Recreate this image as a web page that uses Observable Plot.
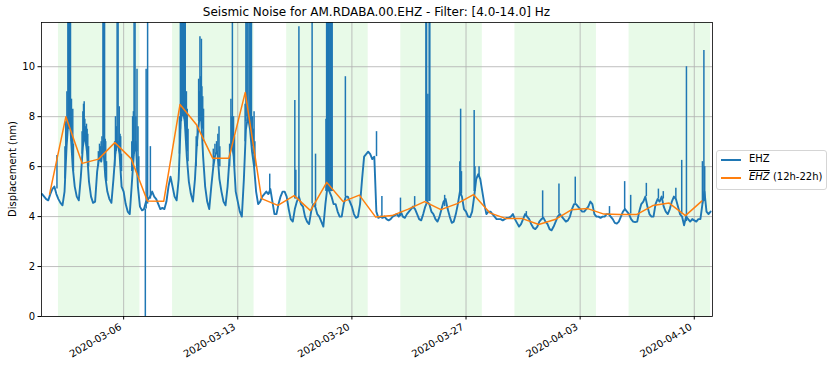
<!DOCTYPE html>
<html>
<head>
<meta charset="utf-8">
<script src="https://cdn.jsdelivr.net/npm/d3@7"></script>
<script src="https://cdn.jsdelivr.net/npm/@observablehq/plot@0.6"></script>
<style>
  body { margin: 0; background: #fff; font-family: "DejaVu Sans", sans-serif; }
  #wrap { position: relative; width: 833px; height: 368px; overflow: hidden; }
  #chart { position: absolute; left: 0; top: 0; }
  #title { position: absolute; left: 41px; width: 671px; top: 5px; text-align: center; font-size: 12px; color: #000; white-space: nowrap; }
  #ylabel { position: absolute; left: 12px; top: 169px; transform: translate(-50%, -50%) rotate(-90deg); font-size: 10px; white-space: nowrap; color: #000; }
  #legend { position: absolute; left: 716px; top: 150px; width: 109px; height: 38px; border: 1px solid #d5d5d5; border-radius: 3px; background: #fff; font-size: 10px; }
  .item { position: absolute; left: 4px; height: 14px; line-height: 14px; white-space: nowrap; }
  .sw { position: absolute; left: 0; top: 7px; width: 20px; height: 1.5px; }
  .lab { position: absolute; left: 28px; top: 0; }
  .ov { font-style: italic; text-decoration: overline; }
</style>
</head>
<body>
<div id="wrap">
  <div id="chart"></div>
  <div id="title">Seismic Noise for AM.RDABA.00.EHZ - Filter: [4.0-14.0] Hz</div>
  <div id="ylabel">Displacement (nm)</div>
  <div id="legend">
    <div class="item" style="top:1px"><span class="sw" style="background:#1f77b4"></span><span class="lab">EHZ</span></div>
    <div class="item" style="top:19px"><span class="sw" style="background:#ff7f0e"></span><span class="lab"><span class="ov">EHZ</span> (12h-22h)</span></div>
  </div>
</div>
<script>
// ---- data ----
const seriesStart = "2020-03-01T00:00:00Z";
const noiseStepHours = 3;
// EHZ displacement (nm), every 3 hours from 2020-03-01 00:00
const noiseValues = [
  4.9, 4.8, 4.7, 4.65, 4.9, 5.1, 5.2, 4.9,
  4.7, 4.55, 4.45, 5.0, 6.8, 8.0, 7.4, 6.0,
  5.2, 4.8, 4.65, 5.6, 6.8, 7.3, 6.6, 5.4,
  4.8, 4.55, 4.6, 5.8, 6.4, 6.2, 6.8, 5.6,
  5.0, 4.7, 4.55, 5.5, 6.6, 7.0, 6.5, 5.2,
  5.0, 4.5, 4.2, 4.1, 5.3, 6.5, 7.0, 5.2,
  4.4, 4.25, 4.3, 4.6, 4.7, 4.8, 5.0, 4.8,
  4.7, 4.5, 4.3, 4.35, 4.3, 4.6, 5.2, 5.6,
  5.2, 4.8, 4.65, 5.5, 7.8, 8.4, 7.8, 6.4,
  5.4, 4.9, 4.6, 5.5, 7.0, 7.8, 8.0, 6.4,
  5.2, 4.6, 4.3, 5.2, 6.0, 6.5, 6.6, 5.5,
  5.0, 4.6, 4.45, 5.2, 6.4, 7.0, 6.4, 5.0,
  4.6, 4.2, 4.0, 5.5, 7.5, 8.0, 7.5, 6.6,
  6.0, 5.0, 4.5, 4.6, 4.8, 4.9, 5.0, 4.9,
  5.1, 4.6, 4.1, 4.1, 4.5, 4.8, 5.0, 5.0,
  4.8, 4.3, 3.9, 3.8, 4.3, 4.6, 4.8, 4.5,
  4.4, 4.0, 3.8, 3.7, 4.2, 4.5, 4.4, 4.1,
  4.0, 3.8, 3.6, 4.5, 5.2, 5.0, 4.8, 4.5,
  4.5, 4.2, 4.0, 4.0, 4.5, 4.8, 4.8, 4.6,
  4.4, 4.1, 3.95, 4.0, 4.5, 5.5, 6.4, 6.5,
  6.6, 6.5, 6.3, 6.4, 4.2, 3.95, 4.0, 3.95,
  4.0, 3.9, 3.85, 3.9, 4.0, 4.05, 4.1, 4.0,
  4.2, 4.0, 3.95, 4.1, 4.2, 4.3, 4.4, 4.3,
  4.1, 3.9, 3.85, 4.1, 4.4, 4.6, 4.5, 4.2,
  4.1, 3.9, 3.8, 4.0, 4.3, 4.6, 4.7, 4.3,
  4.0, 3.75, 3.8, 4.1, 4.5, 5.0, 4.8, 4.3,
  4.2, 4.0, 3.98, 4.2, 4.8, 5.5, 5.7, 5.5,
  5.0, 4.5, 4.1, 4.2, 4.2, 4.1, 4.0, 3.9,
  3.9, 3.9, 3.85, 3.9, 3.95, 3.95, 4.0, 4.1,
  3.9, 3.75, 3.6, 3.7, 3.9, 4.1, 4.0, 3.9,
  3.7, 3.55, 3.5, 3.6, 3.8, 3.9, 3.95, 3.8,
  3.7, 3.5, 3.45, 3.6, 3.8, 4.0, 4.1, 4.0,
  3.9, 3.8, 3.85, 4.0, 4.3, 4.5, 4.5, 4.4,
  4.3, 4.2, 4.2, 4.3, 4.4, 4.6, 4.5, 4.1,
  4.0, 4.0, 3.95, 4.0, 4.0, 4.1, 4.1, 4.0,
  3.9, 3.75, 3.72, 3.8, 4.0, 4.2, 4.3, 4.2,
  4.1, 3.9, 3.8, 3.78, 3.8, 4.2, 4.5, 4.6,
  4.8, 4.4, 4.1, 4.0, 4.0, 4.5, 4.7, 4.6,
  4.8, 4.4, 4.2, 4.1, 4.3, 4.6, 4.8, 4.7,
  4.4, 4.1, 4.0, 3.65, 4.0, 3.9, 3.8, 3.9,
  3.85, 3.8, 3.9, 3.9, 4.5, 5.0, 4.2, 4.1,
  4.2
];
// short bursts: [days since start, level, peak]
const spikes = [
  [0.91,5.1,6.45],
  [1.40,5.5,6.8],[1.45,6.3,7.8],[1.52,7.0,9.0],[1.58,7.5,12.5],[1.63,7.5,12.5],[1.68,7.5,12.5],[1.74,7.5,12.5],[1.80,7.0,8.7],[1.88,6.0,8.3],[1.92,5.8,6.9],
  [2.45,6.5,7.4],[2.50,6.8,8.2],[2.54,7.0,8.5],[2.58,7.2,8.6],[2.62,7.2,7.9],[2.66,7.2,7.6],[2.72,6.8,7.7],[2.76,6.8,7.5],[2.80,6.5,7.3],[2.85,6.0,6.8],
  [3.45,6.0,6.6],[3.52,6.2,6.9],[3.57,6.3,6.8],[3.62,6.3,7.0],[3.67,6.4,7.2],[3.73,6.5,12.5],[3.78,6.5,12.5],[3.83,6.5,12.5],[3.87,6.3,7.1],[3.90,5.8,7.0],[3.95,5.4,6.2],
  [4.45,6.0,7.0],[4.50,6.5,8.0],[4.55,6.6,7.6],[4.60,6.8,12.5],[4.66,6.8,12.5],[4.73,6.6,8.4],[4.78,6.3,7.3],[4.82,6.0,7.2],[4.87,5.8,6.5],
  [5.50,5.8,7.0],[5.55,6.2,8.0],[5.60,6.4,8.2],[5.64,6.5,12.5],[5.70,6.8,12.5],[5.75,7.0,8.0],[5.82,6.6,9.9],[5.88,6.0,7.6],[5.93,5.5,6.4],
  [6.33,4.3,0],[6.38,4.3,9.9],[6.47,4.5,12.5],[6.64,4.7,6.8],
  [8.42,6.5,8.0],[8.48,7.5,12.5],[8.54,7.8,12.5],[8.60,8.0,12.5],[8.66,8.0,12.5],[8.72,7.9,12.5],[8.78,7.6,12.5],[8.85,7.0,9.0],[8.90,6.6,8.3],[8.95,6.2,7.5],
  [9.45,6.0,7.2],[9.52,6.8,7.6],[9.60,7.8,9.5],[9.64,7.8,9.0],[9.68,7.9,11.2],[9.72,7.9,9.6],[9.77,8.0,11.1],[9.80,7.8,9.2],[9.85,7.5,8.8],[9.90,7.0,8.3],
  [10.50,6.0,6.7],[10.60,6.5,6.9],[10.70,6.5,7.0],[10.78,6.6,7.3],[10.85,6.0,7.6],[10.90,6.0,6.8],
  [11.50,6.0,6.9],[11.58,6.8,8.7],[11.62,6.8,8.0],[11.67,6.8,12.5],[11.74,6.5,8.0],[11.80,6.0,7.2],
  [12.45,7.0,8.5],[12.50,7.8,12.5],[12.56,8.0,12.5],[12.62,8.0,12.5],[12.70,7.8,12.5],[12.77,7.5,12.5],[12.84,7.0,12.5],[12.90,6.8,8.0],[12.95,6.5,7.5],[13.00,6.0,8.2],[13.05,6.0,7.0],
  [13.96,4.9,5.7],
  [15.50,4.7,8.65],[15.56,4.7,5.85],[15.75,4.8,11.6],
  [16.56,4.5,12.5],[16.77,4.4,6.5],
  [17.41,5.0,7.9],[17.45,5.0,12.5],[17.50,5.0,12.5],[17.55,5.0,12.5],[17.60,5.0,12.5],[17.65,5.0,12.5],[17.70,5.0,12.5],[17.75,5.0,12.5],[17.79,5.0,12.5],
  [18.60,4.8,9.6],
  [20.51,6.4,7.4],[20.84,3.95,4.8],[21.98,4.0,4.74],[22.85,4.4,4.8],
  [23.54,4.6,12.5],[23.58,4.6,12.5],[23.66,4.6,8.9],[23.74,4.6,12.5],[23.78,4.6,12.5],
  [24.69,4.4,4.85],
  [25.62,4.9,6.2],[25.67,5.0,8.3],[25.72,4.9,5.8],
  [26.50,5.0,8.25],[26.55,5.0,6.0],[26.80,5.6,6.0],
  [29.70,4.0,4.2],[30.70,3.9,5.03],[31.70,4.1,5.3],[32.70,4.5,5.58],
  [34.80,4.05,4.4],[35.73,4.25,5.4],[36.10,4.1,4.85],[37.06,4.8,5.33],
  [37.80,4.7,5.1],[38.10,4.7,5.0],[38.87,4.7,5.13],
  [39.23,4.1,6.25],[39.52,3.8,10.0],
  [40.50,4.5,6.2],[40.59,4.6,10.65],[40.64,4.6,6.0]
];
// daily median 12h-22h
const medianDays = ["2020-03-01","2020-03-02","2020-03-03","2020-03-04","2020-03-05","2020-03-06","2020-03-07","2020-03-08","2020-03-09","2020-03-10","2020-03-11","2020-03-12","2020-03-13","2020-03-14","2020-03-15","2020-03-16","2020-03-17","2020-03-18","2020-03-19","2020-03-20","2020-03-21","2020-03-22","2020-03-23","2020-03-24","2020-03-25","2020-03-26","2020-03-27","2020-03-28","2020-03-29","2020-03-30","2020-03-31","2020-04-01","2020-04-02","2020-04-03","2020-04-04","2020-04-05","2020-04-06","2020-04-07","2020-04-08","2020-04-09","2020-04-10"];
const medianValues = [4.9, 8.0, 6.13, 6.3, 6.96, 6.32, 4.62, 4.61, 8.49, 7.69, 6.34, 6.34, 8.97, 4.72, 4.45, 4.84, 4.24, 5.37, 4.6, 4.86, 3.98, 4.04, 4.3, 4.6, 4.28, 4.52, 4.88, 4.15, 3.92, 3.92, 3.68, 3.88, 4.27, 4.32, 4.1, 4.08, 4.08, 4.44, 4.54, 4.04, 4.62];
const medianHour = "11:00";
// weekdays (Mon-Fri) shading
const weekStarts = ["2020-03-02","2020-03-09","2020-03-16","2020-03-23","2020-03-30","2020-04-06"];
const xTicks = ["2020-03-06","2020-03-13","2020-03-20","2020-03-27","2020-04-03","2020-04-10"];
const yTicks = [0, 2, 4, 6, 8, 10];
const xStart = "2020-02-29T23:05:00Z";
const xEnd = "2020-04-11T02:50:00Z";
const yMax = 11.77;

// ---- build ----
const DAY = 864e5;
const t0 = new Date(seriesStart).getTime();
const noise = noiseValues.map((v, i) => ({t: new Date(t0 + i * noiseStepHours * 3600e3), v}));
const spikeRows = spikes.map(([d, a, b]) => ({t: new Date(t0 + d * DAY), a, b}));
const medians = medianDays.map((d, i) => ({t: new Date(d + "T" + medianHour + ":00Z"), v: medianValues[i]}));
const domainX = [new Date(xStart), new Date(xEnd)];
const bands = weekStarts.map(s => {
  const a = new Date(s + "T00:00:00Z");
  const b = new Date(Math.min(a.getTime() + 5 * DAY, domainX[1].getTime()));
  return {a, b};
});
const ticks = xTicks.map(s => new Date(s + "T00:00:00Z"));

const chart = Plot.plot({
  width: 833,
  height: 368,
  marginLeft: 41,
  marginRight: 121,
  marginTop: 22,
  marginBottom: 52,
  x: {type: "utc", domain: domainX},
  y: {domain: [0, yMax]},
  style: {fontFamily: "DejaVu Sans", fontSize: "10px", color: "#000", background: "transparent"},
  marks: [
    Plot.rect(bands, {x1: "a", x2: "b", y1: 0, y2: yMax, fill: "#e8fae8"}),
    Plot.gridX({ticks, stroke: "#b0b0b0", strokeOpacity: 1, strokeWidth: 0.8}),
    Plot.gridY({ticks: yTicks, stroke: "#b0b0b0", strokeOpacity: 1, strokeWidth: 0.8}),
    Plot.line(noise, {x: "t", y: "v", stroke: "#1f77b4", strokeWidth: 1.9, clip: true}),
    Plot.ruleX(spikeRows, {x: "t", y1: "a", y2: "b", stroke: "#1f77b4", strokeWidth: 1.5, clip: true}),
    Plot.line(medians, {x: "t", y: "v", stroke: "#ff7f0e", strokeWidth: 1.5, clip: true}),
    Plot.frame({stroke: "#000", strokeWidth: 0.8}),
    Plot.axisY({ticks: yTicks, tickSize: 3.5, tickPadding: 3, label: null, fontSize: 10}),
    Plot.axisX({ticks, tickFormat: d3.utcFormat("%Y-%m-%d"), tickRotate: -30, tickSize: 3.5, tickPadding: 2, label: null, fontSize: 10, text: null}),
    Plot.axisX({ticks, tickFormat: d3.utcFormat("%Y-%m-%d"), tickRotate: -30, tickSize: 0, tickPadding: 5.5, label: null, fontSize: 10, dx: -3, dy: 4})
  ]
});
document.getElementById("chart").appendChild(chart);
</script>
</body>
</html>
